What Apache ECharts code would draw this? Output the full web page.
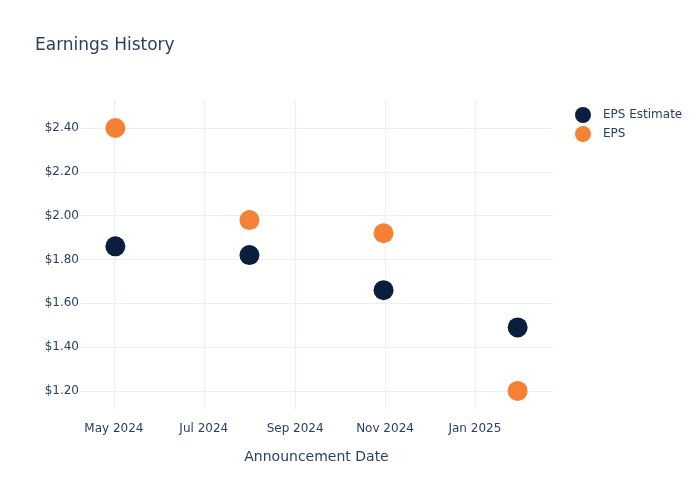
<!DOCTYPE html>
<html>
<head>
<meta charset="utf-8">
<script src="https://cdn.jsdelivr.net/npm/echarts@6/dist/echarts.min.js"></script>
<style>
  html, body { margin: 0; padding: 0; background: #fff; }
  #chart { width: 700px; height: 500px; }
</style>
</head>
<body>
<div id="chart"></div>
<script>
// announcement dates and EPS values
var dates = ['2024-05-02', '2024-08-01', '2024-10-31', '2025-01-30'];
var epsEstimate = [1.86, 1.82, 1.66, 1.49];
var epsActual = [2.40, 1.98, 1.92, 1.20];

var monthNames = ['Jan', 'Feb', 'Mar', 'Apr', 'May', 'Jun', 'Jul', 'Aug', 'Sep', 'Oct', 'Nov', 'Dec'];
var textColor = '#2a3f5f';
var gridColor = '#ebf0f8';
var DAY = 24 * 3600 * 1000;

function pairs(values) {
    return dates.map(function (d, i) { return [d, values[i]]; });
}

var chart = echarts.init(document.getElementById('chart'));
chart.setOption({
    useUTC: true,
    animation: false,
    textStyle: { fontFamily: 'DejaVu Sans' },
    title: {
        text: 'Earnings History',
        left: 30, top: 32,
        textStyle: { color: textColor, fontSize: 17, fontWeight: 'normal' }
    },
    legend: {
        orient: 'vertical',
        left: 570, top: 102,
        itemWidth: 16, itemHeight: 16, itemGap: 3,
        icon: 'circle',
        textStyle: { color: textColor, fontSize: 12, padding: [0, 0, 0, 7] },
        data: ['EPS Estimate', 'EPS']
    },
    grid: { left: 80, right: 147, top: 100, bottom: 90 },
    xAxis: {
        type: 'time',
        min: '2024-04-08',
        max: '2025-02-23',
        minInterval: 59 * DAY,
        splitNumber: 4,
        name: 'Announcement Date',
        nameLocation: 'middle',
        nameGap: 40,
        nameTextStyle: { color: textColor, fontSize: 14 },
        axisLine: { show: false },
        axisTick: { show: false },
        splitLine: { show: true, showMinLine: false, showMaxLine: false, lineStyle: { color: gridColor } },
        axisLabel: {
            color: textColor, fontSize: 12, margin: 13,
            formatter: function (v) {
                var d = new Date(v);
                return monthNames[d.getUTCMonth()] + ' ' + d.getUTCFullYear();
            }
        }
    },
    yAxis: {
        type: 'value',
        min: 1.113,
        max: 2.528,
        splitNumber: 7,
        axisLine: { show: false },
        axisTick: { show: false },
        splitLine: { showMinLine: false, showMaxLine: false, lineStyle: { color: gridColor } },
        axisLabel: {
            color: textColor, fontSize: 12, margin: 1,
            showMinLabel: false, showMaxLabel: false,
            formatter: function (v) { return '$' + v.toFixed(2); }
        }
    },
    series: [
        {
            name: 'EPS Estimate',
            type: 'scatter',
            symbolSize: 20,
            itemStyle: { color: '#0b1e3e', opacity: 1 },
            data: pairs(epsEstimate)
        },
        {
            name: 'EPS',
            type: 'scatter',
            symbolSize: 20,
            itemStyle: { color: '#f58134', opacity: 1 },
            data: pairs(epsActual)
        }
    ]
});
</script>
</body>
</html>
